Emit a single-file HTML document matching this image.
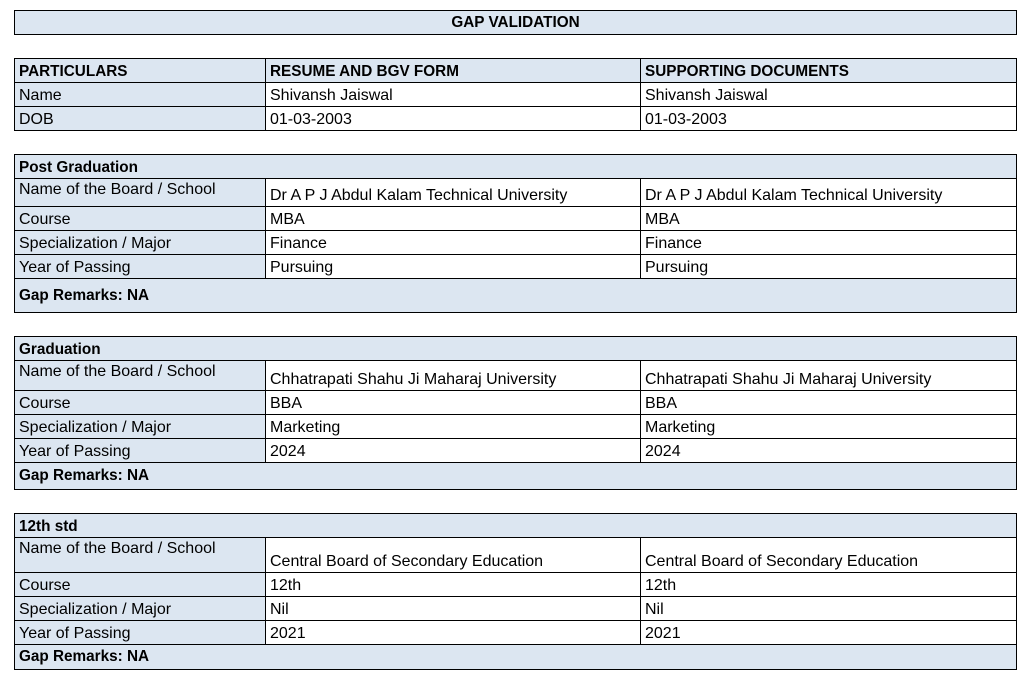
<!DOCTYPE html>
<html><head><meta charset="utf-8"><style>
body{margin:0;width:1028px;height:686px;background:#fff;position:relative;font-family:"Liberation Sans",Arial,sans-serif;font-size:16px;color:#000;overflow:hidden}
.r{position:absolute;left:14px;width:1004px}
.c{position:absolute;top:0;height:100%;border:1px solid #000;box-sizing:border-box;display:flex;align-items:flex-end;padding:0 4px 1px;white-space:nowrap;background:#fff}
.a{left:0;width:252px;background:#dce6f1}
.b{left:251px;width:376px}
.d{left:626px;width:377px}
.f{left:0;width:1003px;background:#dce6f1;font-weight:bold;font-size:15.3px}
.t{align-items:flex-start;padding-top:2px}
.h{font-weight:bold;background:#dce6f1;font-size:15.3px}
.m{align-items:center;padding-bottom:0}
</style></head><body>
<div class="r" style="top:10px;height:25px"><div class="c f m" style="justify-content:center">GAP VALIDATION</div></div>

<div class="r" style="top:58px;height:25px"><div class="c a h">PARTICULARS</div><div class="c b h">RESUME AND BGV FORM</div><div class="c d h">SUPPORTING DOCUMENTS</div></div>
<div class="r" style="top:82px;height:25px"><div class="c a">Name</div><div class="c b">Shivansh Jaiswal</div><div class="c d">Shivansh Jaiswal</div></div>
<div class="r" style="top:106px;height:25px"><div class="c a">DOB</div><div class="c b">01-03-2003</div><div class="c d">01-03-2003</div></div>

<div class="r" style="top:154px;height:25px"><div class="c f">Post Graduation</div></div>
<div class="r" style="top:178px;height:29px"><div class="c a t">Name of the Board / School</div><div class="c b">Dr A P J Abdul Kalam Technical University</div><div class="c d">Dr A P J Abdul Kalam Technical University</div></div>
<div class="r" style="top:206px;height:25px"><div class="c a">Course</div><div class="c b">MBA</div><div class="c d">MBA</div></div>
<div class="r" style="top:230px;height:25px"><div class="c a">Specialization / Major</div><div class="c b">Finance</div><div class="c d">Finance</div></div>
<div class="r" style="top:254px;height:25px"><div class="c a">Year of Passing</div><div class="c b">Pursuing</div><div class="c d">Pursuing</div></div>
<div class="r" style="top:278px;height:35px"><div class="c f m">Gap Remarks: NA</div></div>

<div class="r" style="top:336px;height:25px"><div class="c f">Graduation</div></div>
<div class="r" style="top:360px;height:31px"><div class="c a t">Name of the Board / School</div><div class="c b">Chhatrapati Shahu Ji Maharaj University</div><div class="c d">Chhatrapati Shahu Ji Maharaj University</div></div>
<div class="r" style="top:390px;height:25px"><div class="c a">Course</div><div class="c b">BBA</div><div class="c d">BBA</div></div>
<div class="r" style="top:414px;height:25px"><div class="c a">Specialization / Major</div><div class="c b">Marketing</div><div class="c d">Marketing</div></div>
<div class="r" style="top:438px;height:25px"><div class="c a">Year of Passing</div><div class="c b">2024</div><div class="c d">2024</div></div>
<div class="r" style="top:462px;height:28px"><div class="c f m">Gap Remarks: NA</div></div>

<div class="r" style="top:513px;height:25px"><div class="c f">12th std</div></div>
<div class="r" style="top:537px;height:36px"><div class="c a t">Name of the Board / School</div><div class="c b">Central Board of Secondary Education</div><div class="c d">Central Board of Secondary Education</div></div>
<div class="r" style="top:572px;height:25px"><div class="c a">Course</div><div class="c b">12th</div><div class="c d">12th</div></div>
<div class="r" style="top:596px;height:25px"><div class="c a">Specialization / Major</div><div class="c b">Nil</div><div class="c d">Nil</div></div>
<div class="r" style="top:620px;height:25px"><div class="c a">Year of Passing</div><div class="c b">2021</div><div class="c d">2021</div></div>
<div class="r" style="top:644px;height:26px"><div class="c f m">Gap Remarks: NA</div></div>
</body></html>
